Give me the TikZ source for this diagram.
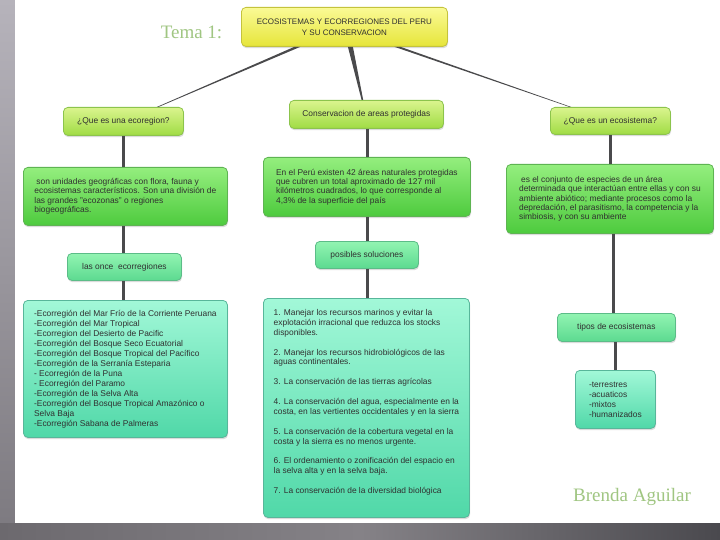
\documentclass[tikz,border=0pt]{standalone}
\usepackage{fontspec}
\setmainfont{Liberation Sans}
\newfontfamily\temafont{Liberation Serif}
\usetikzlibrary{shadows}

\definecolor{txt}{HTML}{303030}
\definecolor{ttlT}{HTML}{FAFA96}
\definecolor{ttlD}{HTML}{E6E53A}
\definecolor{ttlB}{HTML}{C4C33C}
\definecolor{limeT}{HTML}{DAF48E}
\definecolor{limeD}{HTML}{A0DC44}
\definecolor{limeB}{HTML}{8CC44C}
\definecolor{grnT}{HTML}{94EE7E}
\definecolor{grnD}{HTML}{4ECB3E}
\definecolor{grnB}{HTML}{5EB452}
\definecolor{mintT}{HTML}{92F4B2}
\definecolor{mintD}{HTML}{5CDA90}
\definecolor{mintB}{HTML}{5CBC88}
\definecolor{aquaT}{HTML}{A2F8D8}
\definecolor{aquaD}{HTML}{50D8A8}
\definecolor{aquaB}{HTML}{58B69A}
\definecolor{cgray}{HTML}{4A4A4C}
\definecolor{sigc}{HTML}{A0C682}
\definecolor{stripT}{HTML}{B6B3BB}
\definecolor{stripD}{HTML}{7C797F}
\definecolor{botL}{HTML}{6C696E}
\definecolor{botM}{HTML}{858287}
\definecolor{botR}{HTML}{4A494E}

\begin{document}
\begin{tikzpicture}[x=1pt,y=-1pt,
  box/.style={rounded corners=4.5pt, anchor=north west, inner xsep=2pt, inner ysep=0pt,
    line width=0.8pt, text=txt, font=\fontsize{8.4}{9.4}\selectfont,
    drop shadow={shadow xshift=0.6pt, shadow yshift=-1.8pt, opacity=0.28}},
  titlebox/.style={box, draw=ttlB, top color=ttlT, bottom color=ttlD, align=center,
    font=\fontsize{8}{11.3}\selectfont},
  qbox/.style={box, draw=limeB, top color=limeT, bottom color=limeD},
  defbox/.style={box, draw=grnB, top color=grnT, bottom color=grnD, align=left},
  mintbox/.style={box, draw=mintB, top color=mintT, bottom color=mintD},
  listbox/.style={box, draw=aquaB, top color=aquaT, bottom color=aquaD, align=left},
  conn/.style={fill=cgray},
  vconn/.style={draw=cgray, line width=2.8pt},
  sig/.style={font=\temafont\fontsize{19}{21}\selectfont, text=sigc, inner sep=0pt}
]
\useasboundingbox (0,0) rectangle (720,540);
% background
\shade[top color=stripT, bottom color=stripD] (0,0) rectangle (15,540);
\shade[left color=botL, right color=botR, middle color=botM] (0,523) rectangle (720,540);
\fill[white] (15,0) rectangle (720,523);

% texts
\node[sig] (tema) at (191.5,32) {Tema 1:};
\node[sig] (autor) at (632,497) {Brenda Aguilar};

% boxes
\node[titlebox, minimum width=206pt, minimum height=39pt] (title) at (241,7)
  {ECOSISTEMAS Y ECORREGIONES DEL PERU\\Y SU CONSERVACION};

\node[qbox, minimum width=120pt, minimum height=28pt] (q1) at (63,107) {¿Que es una ecoregion?};
\node[qbox, minimum width=154pt, minimum height=28pt] (q2) at (289,100) {Conservacion de areas protegidas};
\node[qbox, minimum width=120pt, minimum height=27pt] (q3) at (550,107) {¿Que es un ecosistema?};

\node[defbox, minimum width=204pt, minimum height=58pt] (d1) at (23,167)
  {\hspace{2pt}son unidades geográficas con flora, fauna y\\
   ecosistemas característicos. Son una división de\\
   las grandes "ecozonas" o regiones\\
   biogeográficas.};
\node[defbox, minimum width=207pt, minimum height=59pt] (d2) at (263,157)
  {En el Perú existen 42 áreas naturales protegidas\\
   que cubren un total aproximado de 127 mil\\
   kilómetros cuadrados, lo que corresponde al\\
   4,3\% de la superficie del país};
\node[defbox, minimum width=207pt, minimum height=69pt] (d3) at (506,164)
  {\hspace{2pt}es el conjunto de especies de un área\\
   determinada que interactúan entre ellas y con su\\
   ambiente abiótico; mediante procesos como la\\
   depredación, el parasitismo, la competencia y la\\
   simbiosis, y con su ambiente};

\node[mintbox, minimum width=114pt, minimum height=27pt] (once) at (67,253) {las once\ \ ecorregiones};
\node[mintbox, minimum width=103pt, minimum height=27pt] (pos) at (315,241) {posibles soluciones};
\node[mintbox, minimum width=118pt, minimum height=28pt] (tipos) at (557,313) {tipos de ecosistemas};

\node[listbox, minimum width=204pt, minimum height=137pt, font=\fontsize{8.4}{10}\selectfont] (l1) at (23,300)
  {-Ecorregión del Mar Frío de la Corriente Peruana\\
   -Ecorregión del Mar Tropical\\
   -Ecorregion del Desierto de Pacific\\
   -Ecorregión del Bosque Seco Ecuatorial\\
   -Ecorregión del Bosque Tropical del Pacífico\\
   -Ecorregión de la Serranía Esteparia\\
   - Ecorregión de la Puna\\
   - Ecorregión del Paramo\\
   -Ecorregión de la Selva Alta\\
   -Ecorregión del Bosque Tropical Amazónico o\\
   Selva Baja\\
   -Ecorregión Sabana de Palmeras};

\node[listbox, minimum width=206pt, minimum height=219pt, font=\fontsize{8.4}{9.9}\selectfont] (sol) at (263,298)
  {1. Manejar los recursos marinos y evitar la\\
   explotación irracional que reduzca los stocks\\
   disponibles.\\[9.9pt]
   2. Manejar los recursos hidrobiológicos de las\\
   aguas continentales.\\[9.9pt]
   3. La conservación de las tierras agrícolas\\[9.9pt]
   4. La conservación del agua, especialmente en la\\
   costa, en las vertientes occidentales y en la sierra\\[9.9pt]
   5. La conservación de la cobertura vegetal en la\\
   costa y la sierra es no menos urgente.\\[9.9pt]
   6. El ordenamiento o zonificación del espacio en\\
   la selva alta y en la selva baja.\\[9.9pt]
   7. La conservación de la diversidad biológica\par\vspace{11pt}};

\node[listbox, minimum width=80pt, minimum height=58pt, font=\fontsize{8.4}{10}\selectfont] (tl) at (575,370)
  {-terrestres\\ -acuaticos\\ -mixtos\\ -humanizados};

% connectors from the title (tapered)
\fill[conn] ([xshift=-50pt]title.south) -- ([xshift=-44pt]title.south)
  -- ([xshift=35pt]q1.north) -- ([xshift=33.4pt]q1.north) -- cycle;
\fill[conn] ([xshift=3.5pt]title.south) -- ([xshift=8.5pt]title.south)
  -- ([xshift=-3.2pt]q2.north) -- ([xshift=-4.8pt]q2.north) -- cycle;
\fill[conn] ([xshift=50pt]title.south) -- ([xshift=56pt]title.south)
  -- ([xshift=-39.2pt]q3.north) -- ([xshift=-40.8pt]q3.north) -- cycle;

% vertical connectors
\draw[vconn] (q1.south) -- (q1.south |- d1.north);
\draw[vconn] (d1.south -| q1.south) -- (once.north -| q1.south);
\draw[vconn] (once.south -| q1.south) -- (l1.north -| q1.south);
\draw[vconn] ([xshift=1pt]q2.south) -- ([xshift=1pt]q2.south |- d2.north);
\draw[vconn] ([xshift=1pt]d2.south -| q2.south) -- ([xshift=1pt]pos.north -| q2.south);
\draw[vconn] ([xshift=1pt]pos.south -| q2.south) -- ([xshift=1pt]sol.north -| q2.south);
\draw[vconn] (q3.south) -- (q3.south |- d3.north);
\draw[vconn] ([xshift=-3pt]tipos.north |- d3.south) -- ([xshift=-3pt]tipos.north);
\draw[vconn] ([xshift=-1pt]tipos.south) -- ([xshift=-1pt]tipos.south |- tl.north);
\end{tikzpicture}
\end{document}
